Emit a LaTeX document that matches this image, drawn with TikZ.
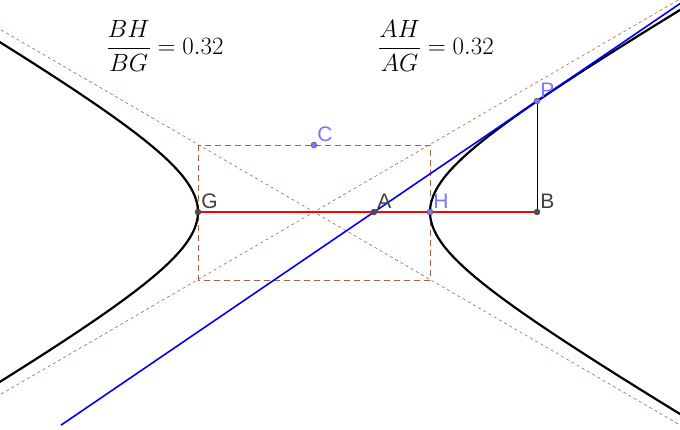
\documentclass[tikz,border=0pt]{standalone}
\usepackage{amsmath}
\usepackage{fontspec}
\usetikzlibrary{calc}
\newfontfamily\labelfont{Liberation Sans}
\definecolor{brownish}{RGB}{176,96,64}
\definecolor{ptblue}{RGB}{120,120,255}
\tikzset{
  pt/.style={circle,fill=#1,draw=black!70,inner sep=0pt,minimum size=6pt},
  lbl/.style={font=\labelfont\fontsize{21}{21}\selectfont,text=#1,inner sep=1pt},
  asym/.style={brownish,dashed,line width=0.6pt},
  curve/.style={black,line width=2.2pt}
}
\begin{document}
\begin{tikzpicture}[x=1pt,y=-1pt]
  \useasboundingbox (0,0) rectangle (680,430);
  \begin{scope}
    \clip (0,0) rectangle (680,430);
    % asymptotes and box
    \draw[asym] (-30,212-344*0.582) -- (710,212+396*0.582);
    \draw[asym] (-30,212+344*0.582) -- (710,212-396*0.582);
    \draw[brownish,line width=0.9pt,dash pattern=on 6pt off 4pt] (198,145.5) rectangle (430,280);
    % hyperbola
    \draw[curve] plot[domain=-2.1:2.1,samples=80,smooth] ({314+116*cosh(\x)},{212+67.5*sinh(\x)});
    \draw[curve] plot[domain=-2.1:2.1,samples=80,smooth] ({314-116*cosh(\x)},{212+67.5*sinh(\x)});
    % points
    \coordinate (G) at (198,212);
    \coordinate (H) at (430,212);
    \coordinate (A) at (374,212);
    \coordinate (B) at (537,212);
    \coordinate (P) at (537,101);
    \coordinate (C) at (314,145);
    \draw[red,line width=1.6pt] (G) -- (B);
    \draw[black,line width=0.5pt] (P) -- (B);
    \draw[blue,line width=1.6pt] ($(A)!-1.92!(P)$) -- ($(A)!2.1!(P)$);
  \end{scope}
  \node[pt=black!70] (g) at (G) {};
  \node[pt=black!70] (a) at (A) {};
  \node[pt=ptblue] (h) at (H) {};
  \node[pt=black!70] (b) at (B) {};
  \node[pt=ptblue] (p) at (P) {};
  \node[pt=ptblue] (c) at (C) {};
  \node[lbl=black!75,anchor=south west] at (g.north east) {G};
  \node[lbl=black!75,anchor=south west] at (a.north east) {A};
  \node[lbl=ptblue,anchor=south west] at (h.north east) {H};
  \node[lbl=black!75,anchor=south west] at (b.north east) {B};
  \node[lbl=ptblue,anchor=south west] at (p.north east) {P};
  \node[lbl=ptblue,anchor=south west] at (c.north east) {C};
  % ratios
  \node[font=\fontsize{26}{26}\selectfont] (r1) at (165,46) {$\dfrac{BH}{BG}=0.32$};
  \node[font=\fontsize{26}{26}\selectfont] (r2) at (436,46) {$\dfrac{AH}{AG}=0.32$};
\end{tikzpicture}
\end{document}
